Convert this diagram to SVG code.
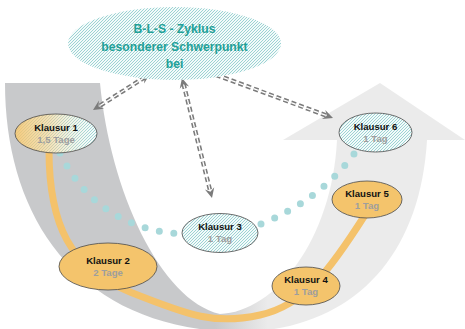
<svg xmlns="http://www.w3.org/2000/svg" width="465" height="329" viewBox="0 0 465 329">
<style>
.kn{stroke:#4a4a4a;stroke-width:0.8}
.or{fill:#f4c46c}
.ht{fill:url(#hatch)}
.t1{font-family:"Liberation Sans",Arial,sans-serif;font-weight:bold;font-size:9.6px;fill:#111;text-anchor:middle}
.t2{font-family:"Liberation Sans",Arial,sans-serif;font-weight:bold;font-size:9.6px;fill:#9e9e9e;text-anchor:middle}
.tt{font-family:"Liberation Sans",Arial,sans-serif;font-weight:bold;font-size:12.2px;fill:#22a097;text-anchor:middle}
.arr{fill:none;stroke:#7b7b7b;stroke-width:4.4;stroke-dasharray:5 3}
.arrw{fill:none;stroke:#fff;stroke-width:1.3;stroke-dasharray:5 3}
.arrm{fill:none;stroke:none;marker-start:url(#ah);marker-end:url(#ah)}
.dot{fill:none;stroke:#a8d8da;stroke-width:7;stroke-linecap:round}
</style>
<defs>
<pattern id="hatch" width="3" height="3" patternUnits="userSpaceOnUse">
<rect width="3" height="3" fill="#f3fafa"/>
<path d="M-1,1 L1,-1 M0,3 L3,0 M2,4 L4,2" stroke="#92cfcf" stroke-width="0.9"/>
</pattern>
<linearGradient id="bg" gradientUnits="userSpaceOnUse" x1="215" y1="0" x2="268" y2="0">
<stop offset="0" stop-color="#c8c9cb"/>
<stop offset="1" stop-color="#ebebeb"/>
</linearGradient>
<linearGradient id="k1g" x1="0" y1="0" x2="1" y2="0">
<stop offset="0" stop-color="#f4c46c"/>
<stop offset="0.45" stop-color="#f5cf8c"/>
<stop offset="1" stop-color="#eef6f4"/>
</linearGradient>
<linearGradient id="k1m" x1="0" y1="0" x2="1" y2="0">
<stop offset="0" stop-color="#222"/>
<stop offset="0.4" stop-color="#666"/>
<stop offset="1" stop-color="#fff"/>
</linearGradient>
<mask id="mk1" maskUnits="userSpaceOnUse" x="0" y="100" width="120" height="60">
<ellipse cx="56" cy="133.5" rx="41" ry="19.5" fill="url(#k1m)"/>
</mask>
<marker id="ah" viewBox="-11 -6 12 12" markerWidth="12" markerHeight="12" refX="0" refY="0" orient="auto-start-reverse" markerUnits="userSpaceOnUse">
<path d="M0,0 L-10,-4.8 L-6.5,0 L-10,4.8 Z" fill="#7b7b7b"/>
</marker>
</defs>
<rect width="465" height="329" fill="#fff"/>
<path id="background" fill="url(#bg)" d="M5,83 L100,83 C110,190 160,300 220,314 C275,312 332,240 337,140 L283,140 L380,83 L465,140 L427,140 C420,260 350,330 240,332 C80,330 5,220 5,83 Z"/>
<g id="connectors">
<path d="M49,150 C49,225 70,268 130,292 S215,325 260,315 S330,270 365,215" fill="none" stroke="#f4c26b" stroke-width="7"/>
<path class="dot" d="M60,153 Q95,225 175,233.5" stroke-dasharray="0 14.6"/>
<path class="dot" d="M261,224 Q320,200 354,154" stroke-dasharray="0 14.72"/>
<path class="arr" d="M144.9,77.2 L98.1,106.8"/>
<path class="arrw" d="M144.9,77.2 L98.1,106.8"/>
<path class="arrm" d="M150,74 L93,110"/>
<path class="arr" d="M183.5,83.8 L210.5,192.2"/>
<path class="arrw" d="M183.5,83.8 L210.5,192.2"/>
<path class="arrm" d="M182,78 L212,198"/>
<path class="arr" d="M208.6,72.1 L327.4,115.9"/>
<path class="arrw" d="M208.6,72.1 L327.4,115.9"/>
<path class="arrm" d="M203,70 L333,118"/>
</g>
<g id="title">
<ellipse cx="174.5" cy="43.5" rx="106.5" ry="36.5" class="ht"/>
<text class="tt" x="174.5" y="33">B-L-S - Zyklus</text>
<text class="tt" x="174.5" y="50.5">besonderer Schwerpunkt</text>
<text class="tt" x="174.5" y="68">bei</text>
</g>
<g id="k1">
<ellipse cx="56" cy="133.5" rx="41" ry="19.5" fill="url(#k1g)"/>
<ellipse cx="56" cy="133.5" rx="41" ry="19.5" class="ht" mask="url(#mk1)"/>
<ellipse cx="56" cy="133.5" rx="41" ry="19.5" fill="none" class="kn"/>
<text class="t1" x="56" y="130.5">Klausur 1</text>
<text class="t2" x="56" y="142.5">1,5 Tage</text>
</g>
<g id="k2">
<ellipse cx="108" cy="266.5" rx="49" ry="23.5" class="or kn"/>
<text class="t1" x="108" y="263.5">Klausur 2</text>
<text class="t2" x="108" y="275.5">2 Tage</text>
</g>
<g id="k3">
<ellipse cx="220" cy="233" rx="38" ry="19.5" class="ht kn"/>
<text class="t1" x="220" y="230">Klausur 3</text>
<text class="t2" x="220" y="242">1 Tag</text>
</g>
<g id="k4">
<ellipse cx="306" cy="286" rx="34" ry="19" class="or kn"/>
<text class="t1" x="306" y="283">Klausur 4</text>
<text class="t2" x="306" y="295">1 Tag</text>
</g>
<g id="k5">
<ellipse cx="367" cy="199.5" rx="35" ry="18.5" class="or kn"/>
<text class="t1" x="367" y="196.5">Klausur 5</text>
<text class="t2" x="367" y="208.5">1 Tag</text>
</g>
<g id="k6">
<ellipse cx="375.5" cy="132.5" rx="36.5" ry="19.5" class="ht kn"/>
<text class="t1" x="375.5" y="129.5">Klausur 6</text>
<text class="t2" x="375.5" y="141.5">1 Tag</text>
</g>
</svg>
